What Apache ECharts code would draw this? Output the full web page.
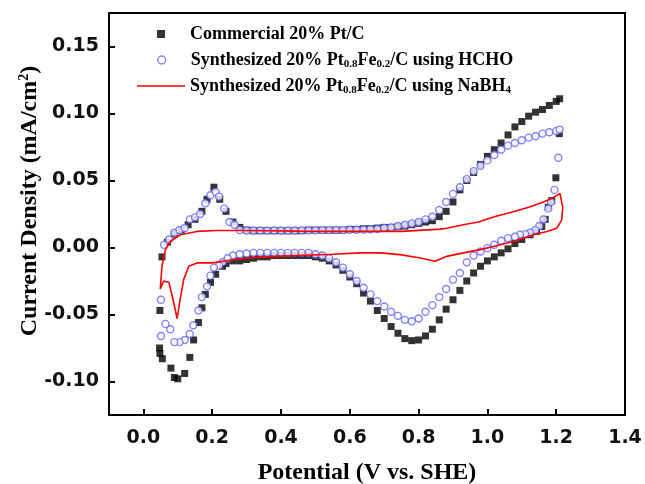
<!DOCTYPE html>
<html><head><meta charset="utf-8">
<script src="https://cdn.jsdelivr.net/npm/echarts@6/dist/echarts.min.js"></script>
<style>html,body{margin:0;padding:0;background:#fff}#c{width:645px;height:484px}</style>
</head><body><div id="c"></div>
<script>
// Commercial 20% Pt/C (black squares)
var ptV = [0.054,0.07,0.09,0.11,0.13,0.15,0.17,0.185,0.205,0.222,0.24,0.26,0.28,0.30,0.32,0.34,0.36,0.38,0.40,0.42,0.44,0.46,0.48,0.50,0.52,0.54,0.56,0.58,0.60,0.62,0.64,0.66,0.68,0.70,0.72,0.74,0.76,0.78,0.80,0.82,0.84,0.86,0.88,0.90,0.92,0.94,0.96,0.98,1.00,1.02,1.04,1.06,1.08,1.10,1.12,1.14,1.16,1.18,1.20,1.21,
  1.209,1.199,1.187,1.177,1.168,1.158,1.143,1.124,1.10,1.08,1.06,1.04,1.02,1.00,0.98,0.96,0.94,0.92,0.90,0.88,0.86,0.84,0.82,0.80,0.78,0.76,0.74,0.72,0.70,0.68,0.66,0.64,0.62,0.60,0.58,0.56,0.54,0.52,0.50,0.48,0.46,0.44,0.42,0.40,0.38,0.36,0.34,0.32,0.30,0.28,0.26,0.24,0.23,0.21,0.195,0.18,0.17,0.16,0.146,0.135,0.12,0.10,0.09,0.08,0.055,0.048,0.047,0.048];
var ptJ = [-0.007,0.004,0.010,0.013,0.017,0.021,0.027,0.036,0.045,0.036,0.027,0.019,0.015,0.013,0.0125,0.0125,0.0125,0.0125,0.0125,0.0125,0.0125,0.0125,0.013,0.013,0.013,0.013,0.013,0.013,0.0135,0.0135,0.014,0.014,0.0145,0.015,0.015,0.0155,0.016,0.017,0.018,0.019,0.020,0.023,0.027,0.034,0.043,0.050,0.056,0.062,0.068,0.073,0.078,0.084,0.090,0.094,0.098,0.101,0.103,0.106,0.109,0.111,
  0.085,0.052,0.035,0.030,0.021,0.0156,0.012,0.0095,0.006,0.003,-0.001,-0.004,-0.007,-0.010,-0.014,-0.019,-0.025,-0.032,-0.039,-0.046,-0.054,-0.061,-0.066,-0.069,-0.0695,-0.068,-0.064,-0.059,-0.053,-0.047,-0.040,-0.034,-0.027,-0.022,-0.017,-0.013,-0.010,-0.008,-0.007,-0.006,-0.006,-0.006,-0.006,-0.006,-0.006,-0.007,-0.007,-0.008,-0.009,-0.010,-0.010,-0.012,-0.014,-0.020,-0.026,-0.035,-0.045,-0.056,-0.069,-0.082,-0.094,-0.098,-0.097,-0.090,-0.083,-0.079,-0.075,-0.047];

// Synthesized 20% Pt0.8Fe0.2/C using HCHO (blue open circles)
var hchoV = [0.051,0.06,0.075,0.09,0.105,0.12,0.135,0.15,0.165,0.18,0.195,0.21,0.22,0.235,0.25,0.265,0.28,0.30,0.32,0.34,0.36,0.38,0.40,0.42,0.44,0.46,0.48,0.50,0.52,0.54,0.56,0.58,0.60,0.62,0.64,0.66,0.68,0.70,0.72,0.74,0.76,0.78,0.80,0.82,0.84,0.86,0.88,0.90,0.92,0.94,0.96,0.98,1.00,1.02,1.04,1.06,1.08,1.10,1.12,1.14,1.16,1.18,1.20,1.21,
  1.206,1.195,1.185,1.177,1.163,1.151,1.139,1.124,1.11,1.095,1.08,1.06,1.04,1.02,1.00,0.98,0.96,0.94,0.92,0.90,0.88,0.86,0.84,0.82,0.80,0.78,0.76,0.74,0.72,0.70,0.68,0.66,0.64,0.62,0.60,0.58,0.56,0.54,0.52,0.50,0.48,0.46,0.44,0.42,0.40,0.38,0.36,0.34,0.32,0.30,0.28,0.26,0.245,0.23,0.22,0.205,0.195,0.185,0.17,0.16,0.145,0.135,0.12,0.105,0.09,0.078,0.064,0.051];
var hchoJ = [-0.039,0.002,0.006,0.011,0.013,0.0145,0.021,0.0225,0.025,0.033,0.039,0.0415,0.038,0.029,0.019,0.017,0.013,0.0127,0.0127,0.0127,0.0127,0.0127,0.0127,0.0127,0.0127,0.0128,0.0128,0.0128,0.013,0.013,0.013,0.013,0.0132,0.0132,0.0134,0.0136,0.0138,0.0145,0.015,0.016,0.017,0.018,0.019,0.021,0.023,0.028,0.034,0.040,0.045,0.051,0.057,0.061,0.065,0.069,0.073,0.076,0.078,0.080,0.082,0.083,0.085,0.086,0.087,0.088,
  0.067,0.043,0.034,0.029,0.021,0.016,0.013,0.011,0.010,0.0095,0.008,0.007,0.005,0.002,-0.0005,-0.003,-0.006,-0.011,-0.019,-0.024,-0.031,-0.037,-0.043,-0.048,-0.053,-0.055,-0.054,-0.051,-0.048,-0.044,-0.040,-0.035,-0.030,-0.025,-0.020,-0.015,-0.011,-0.008,-0.006,-0.005,-0.004,-0.004,-0.004,-0.004,-0.004,-0.004,-0.004,-0.004,-0.004,-0.0045,-0.005,-0.006,-0.008,-0.011,-0.0135,-0.015,-0.021,-0.029,-0.037,-0.047,-0.058,-0.0645,-0.069,-0.0706,-0.0706,-0.061,-0.057,-0.066];

// Synthesized 20% Pt0.8Fe0.2/C using NaBH4 (red line)
var nabhV = [0.049,0.054,0.064,0.078,0.107,0.156,0.214,0.272,0.35,0.45,0.55,0.63,0.69,0.75,0.80,0.863,0.882,0.93,0.974,1.02,1.075,1.12,1.163,1.19,1.211,1.219,1.216,1.202,1.173,1.134,1.075,1.02,0.979,0.93,0.882,0.848,0.805,0.746,0.688,0.63,0.55,0.45,0.35,0.30,0.25,0.20,0.156,0.132,0.117,0.107,0.098,0.086,0.074,0.059,0.049];
var nabhJ = [-0.031,-0.014,-0.0016,0.0045,0.0095,0.012,0.0127,0.0127,0.0125,0.0122,0.012,0.012,0.012,0.012,0.0128,0.0137,0.0144,0.017,0.019,0.023,0.0267,0.030,0.034,0.037,0.0403,0.030,0.0206,0.0144,0.012,0.0095,0.0045,0.001,-0.0016,-0.004,-0.0066,-0.0103,-0.0078,-0.0053,-0.004,-0.004,-0.005,-0.006,-0.007,-0.008,-0.0095,-0.0115,-0.0115,-0.014,-0.024,-0.0386,-0.053,-0.0386,-0.026,-0.025,-0.031];

var xTicks = [0.0,0.2,0.4,0.6,0.8,1.0,1.2];
var xLabels = [0.0,0.2,0.4,0.6,0.8,1.0,1.2,1.4];
var yTicks = [-0.10,-0.05,0.00,0.05,0.10,0.15];

var names = ['Commercial 20% Pt/C','Synthesized 20% Pt0.8Fe0.2/C using HCHO','Synthesized 20% Pt0.8Fe0.2/C using NaBH4'];
var legendRich = [
  '{a|Commercial 20% Pt/C}',
  '{a|Synthesized 20% Pt}{s|0.8}{a|Fe}{s|0.2}{a|/C using HCHO}',
  '{a|Synthesized 20% Pt}{s|0.8}{a|Fe}{s|0.2}{a|/C using NaBH}{s|4}'
];
var legendIcons = ['path://M0,0H1V1H0Z', 'circle', 'path://M0,0H30V1H0Z'];
var legendTops = [25, 51, 77];
var legendLefts = [157, 157, 137];
function pairs(v, j){ return v.map(function(x,i){ return [x, j[i]]; }); }

var serif = 'Liberation Serif, Times New Roman, serif';
var sans = 'DejaVu Sans, Arial, sans-serif';
var richStyles = {
  a:{fontFamily:serif,fontWeight:'bold',fontSize:18,color:'#000',lineHeight:20},
  s:{fontFamily:serif,fontWeight:'bold',fontSize:11,color:'#000',lineHeight:11,verticalAlign:'bottom'}
};
var legendStyles = [
  {color:'#000'},
  {color:'#fff', borderColor:'#6464ff', borderWidth:1.4},
  {color:'#ff0000'}
];
var legends = names.map(function(n, i){
  return {
    orient:'vertical', left:legendLefts[i], top:legendTops[i], padding:0, itemWidth:48, itemHeight:i===2?2:8,
    selectedMode:false,
    data:[{name:n, icon:legendIcons[i], itemStyle:legendStyles[i]}],
    formatter:function(){ return legendRich[i]; },
    textStyle:{rich:richStyles}
  };
});

var chart = echarts.init(document.getElementById('c'), null, {renderer:'canvas'});
chart.setOption({
  animation:false,
  backgroundColor:'#fff',
  grid:{left:109,right:20,top:13,bottom:69,containLabel:false,outerBoundsMode:'none',
    show:true,borderColor:'#000',borderWidth:2,backgroundColor:'transparent'},
  legend:legends,
  xAxis:{
    type:'value', min:-0.1, max:1.4,
    name:'Potential (V vs. SHE)', nameLocation:'middle', nameGap:46,
    nameTextStyle:{fontFamily:serif,fontWeight:'bold',fontSize:24,color:'#000'},
    axisLine:{show:true,onZero:false,lineStyle:{color:'#000',width:2}},
    axisTick:{show:true,inside:true,length:6,lineStyle:{color:'#000',width:2},customValues:xTicks},
    axisLabel:{show:true,margin:14,fontFamily:sans,fontWeight:'bold',fontSize:19,color:'#111',customValues:xLabels,
      formatter:function(v){return v.toFixed(1);}},
    splitLine:{show:false}
  },
  yAxis:{
    type:'value', min:-0.125, max:0.175,
    name:'{t|Current Density (mA/cm}{p|2}{t|)}', nameLocation:'middle', nameGap:66, nameRotate:90,
    nameMoveOverlap:false,
    nameTextStyle:{padding:[0,0,0,26], rich:{
      t:{fontFamily:serif,fontWeight:'bold',fontSize:24,color:'#000',lineHeight:26},
      p:{fontFamily:serif,fontWeight:'bold',fontSize:14,color:'#000',lineHeight:14,verticalAlign:'top'}
    }},
    axisLine:{show:true,onZero:false,lineStyle:{color:'#000',width:2}},
    axisTick:{show:true,inside:true,length:6,lineStyle:{color:'#000',width:2},customValues:yTicks},
    axisLabel:{show:true,margin:10,fontFamily:sans,fontWeight:'bold',fontSize:19,color:'#111',customValues:yTicks,
      formatter:function(v){return v.toFixed(2);}},
    splitLine:{show:false}
  },
  series:[
    {name:names[0], type:'scatter', symbol:'rect', symbolSize:7, data:pairs(ptV,ptJ),
      itemStyle:{color:'#000'}, z:2},
    {name:names[1], type:'scatter', symbol:'circle', symbolSize:7, data:pairs(hchoV,hchoJ),
      itemStyle:{color:'#fff',borderColor:'#6464ff',borderWidth:1.4}, z:3},
    {name:names[2], type:'line', symbol:'none', showSymbol:false, data:pairs(nabhV,nabhJ),
      lineStyle:{color:'#ff0000',width:1.6}, itemStyle:{color:'#ff0000'}, z:4}
  ]
});
</script></body></html>
